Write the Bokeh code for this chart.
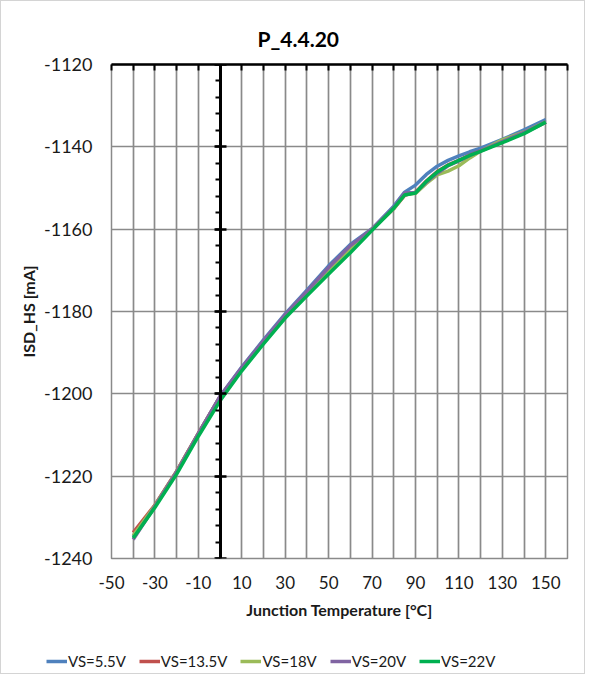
from bokeh.plotting import figure
from bokeh.layouts import column
from bokeh.models import (LinearAxis, SingleIntervalTicker, FixedTicker, Legend,
                          LegendItem, Range1d)
from bokeh.embed import file_html
from bokeh.resources import INLINE

# ---------------- data ----------------
temps = [-40, -30, -20, -10, 0, 10, 20, 30, 40, 50, 60, 70, 80, 85, 90, 95, 100, 105, 110, 115, 120, 130, 140, 150]

series_names = ["VS=5.5V", "VS=13.5V", "VS=18V", "VS=20V", "VS=22V"]
series_colors = ["#4F81BD", "#C0504D", "#9BBB59", "#8064A2", "#00B050"]

vs_5_5 = [-1234.6, -1227.2, -1218.9, -1209.6, -1200.6, -1193.5, -1186.9, -1180.6, -1174.8, -1168.9,
          -1163.7, -1159.9, -1154.4, -1151.0, -1149.3, -1146.7, -1144.7, -1143.3, -1142.2, -1141.2,
          -1140.3, -1138.2, -1135.9, -1133.4]
vs_13_5 = [-1233.7, -1227.0, -1218.8, -1209.6, -1200.7, -1193.8, -1187.3, -1181.0, -1175.5, -1169.8,
           -1164.5, -1160.0, -1155.0, -1151.8, -1151.0, -1148.3, -1146.0, -1144.4, -1143.3, -1142.0,
           -1141.0, -1138.8, -1136.6, -1134.0]
vs_18 = [-1234.5, -1227.1, -1218.9, -1209.7, -1200.8, -1193.9, -1187.4, -1181.1, -1175.6, -1170.0,
         -1164.6, -1160.0, -1155.0, -1151.6, -1151.3, -1148.9, -1146.8, -1145.9, -1144.6, -1142.7,
         -1141.0, -1138.3, -1136.4, -1133.9]
vs_20 = [-1235.4, -1227.3, -1219.0, -1209.7, -1200.6, -1193.6, -1187.1, -1180.8, -1175.1, -1169.3,
         -1164.0, -1160.0, -1154.7, -1151.2, -1151.1, -1148.6, -1146.4, -1144.6, -1143.4, -1142.1,
         -1141.0, -1138.7, -1136.5, -1134.0]
vs_22 = [-1235.0, -1227.6, -1219.5, -1210.3, -1201.7, -1194.4, -1187.9, -1181.6, -1176.2, -1170.9,
         -1165.7, -1160.3, -1154.9, -1151.7, -1151.2, -1148.4, -1146.1, -1144.5, -1143.3, -1142.1,
         -1141.1, -1139.0, -1136.8, -1134.0]

x_tick_values = [-50, -30, -10, 10, 30, 50, 70, 90, 110, 130, 150]
x_tick_labels = ["-50", "-30", "-10", "10", "30", "50", "70", "90", "110", "130", "150"]
y_tick_values = [-1240, -1220, -1200, -1180, -1160, -1140, -1120]
y_tick_labels = ["-1240", "-1220", "-1200", "-1180", "-1160", "-1140", "-1120"]

x_min, x_max = -50, 160
y_min, y_max = -1240, -1120

FONT = "Lato"
TXT = "#1a1a1a"
GRID = "#8a8a8a"

all_series = [vs_5_5, vs_13_5, vs_18, vs_20, vs_22]

p = figure(width=583, height=632, output_backend="svg", toolbar_location=None,
           x_range=Range1d(x_min, x_max), y_range=Range1d(y_min, y_max),
           min_border_left=110, min_border_right=17, min_border_top=63, min_border_bottom=75)
p.frame_align = False
p.background_fill_color = "white"
p.border_fill_color = "white"
p.outline_line_color = GRID
p.outline_line_width = 1.5

# title
p.title.text = "P_4.4.20"
p.title.align = "left"
p.title.offset = 146
p.title.vertical_align = "top"
p.title.text_font = FONT
p.title.text_font_size = "21px"
p.title.text_font_style = "bold"
p.title.text_color = "black"
p.title.standoff = 24

# bottom axis (labels only)
xa = p.xaxis[0]
xa.ticker = FixedTicker(ticks=x_tick_values)
xa.major_label_overrides = dict(zip(x_tick_values, x_tick_labels))
xa.axis_line_color = None
xa.major_tick_in = 0
xa.major_tick_out = 0
xa.minor_tick_in = 0
xa.minor_tick_out = 0
xa.major_label_text_font = FONT
xa.major_label_text_font_size = "17px"
xa.major_label_text_color = TXT
xa.major_label_standoff = 17
xa.axis_label = "Junction Temperature [°C]"
xa.axis_label_text_font = FONT
xa.axis_label_text_font_size = "16px"
xa.axis_label_text_font_style = "bold"
xa.axis_label_text_color = TXT
xa.axis_label_standoff = 8

# left axis (labels only)
ya = p.yaxis[0]
ya.ticker = FixedTicker(ticks=y_tick_values)
ya.major_label_overrides = dict(zip(y_tick_values, y_tick_labels))
ya.axis_line_color = None
ya.major_tick_in = 0
ya.major_tick_out = 0
ya.minor_tick_in = 0
ya.minor_tick_out = 0
ya.major_label_text_font = FONT
ya.major_label_text_font_size = "18px"
ya.major_label_text_color = TXT
ya.major_label_standoff = 19
ya.axis_label = "ISD_HS [mA]"
ya.axis_label_text_font = FONT
ya.axis_label_text_font_size = "16px"
ya.axis_label_text_font_style = "bold"
ya.axis_label_text_color = TXT
ya.axis_label_standoff = 3

# grids
p.xgrid.ticker = SingleIntervalTicker(interval=10, num_minor_ticks=0)
p.ygrid.ticker = SingleIntervalTicker(interval=20, num_minor_ticks=0)
p.xgrid.grid_line_color = GRID
p.ygrid.grid_line_color = GRID
p.xgrid.grid_line_width = 1.7
p.ygrid.grid_line_width = 1.7

# top black axis line with ticks (no labels)
top = LinearAxis(ticker=SingleIntervalTicker(interval=10, num_minor_ticks=0),
                 axis_line_color="black", axis_line_width=2.5,
                 major_tick_in=6, major_tick_out=0, major_tick_line_color="black",
                 major_tick_line_width=2, minor_tick_in=0, minor_tick_out=0,
                 major_label_text_font_size="1px", major_label_text_color=None,
                 major_label_standoff=0)
p.add_layout(top, "above")

# vertical black axis at x = 0 (no labels)
zero_axis = LinearAxis(fixed_location=0,
                       ticker=SingleIntervalTicker(interval=20, num_minor_ticks=5),
                       axis_line_color="black", axis_line_width=3,
                       major_tick_in=6, major_tick_out=6, major_tick_line_color="black",
                       major_tick_line_width=2.5,
                       minor_tick_in=5, minor_tick_out=0, minor_tick_line_color="black",
                       minor_tick_line_width=2,
                       major_label_text_font_size="1px", major_label_text_color=None,
                       major_label_standoff=0)
p.add_layout(zero_axis, "right")

# series
for name, color, vals in zip(series_names, series_colors, all_series):
    p.line(temps, vals, line_color=color, line_width=3.5, line_join="round")

# legend strip below the chart (same series, drawn outside its own view range)
lf = figure(width=583, height=40, output_backend="svg", toolbar_location=None,
            x_range=Range1d(1000, 1001), y_range=Range1d(0, 1),
            x_axis_location=None, y_axis_location=None,
            min_border_left=0, min_border_right=0, min_border_top=0, min_border_bottom=0)
lf.frame_align = False
lf.grid.visible = False
lf.outline_line_color = None
lf.background_fill_color = "white"
lf.border_fill_color = "white"
items = []
for name, color, vals in zip(series_names, series_colors, all_series):
    r = lf.line(temps, vals, line_color=color, line_width=3.5)
    items.append(LegendItem(label=name, renderers=[r]))
legend = Legend(items=items, orientation="horizontal", location=(45, 3),
                glyph_width=21, glyph_height=18, label_standoff=1, spacing=13,
                padding=0, margin=0, border_line_color=None, background_fill_alpha=0,
                label_text_font=FONT, label_text_font_size="15px", label_text_color=TXT)
lf.add_layout(legend)

layout = column(p, lf, spacing=0)
layout.styles = {"border": "1px solid #d4d4d4"}

open("out.html", "w").write(file_html(layout, INLINE))
